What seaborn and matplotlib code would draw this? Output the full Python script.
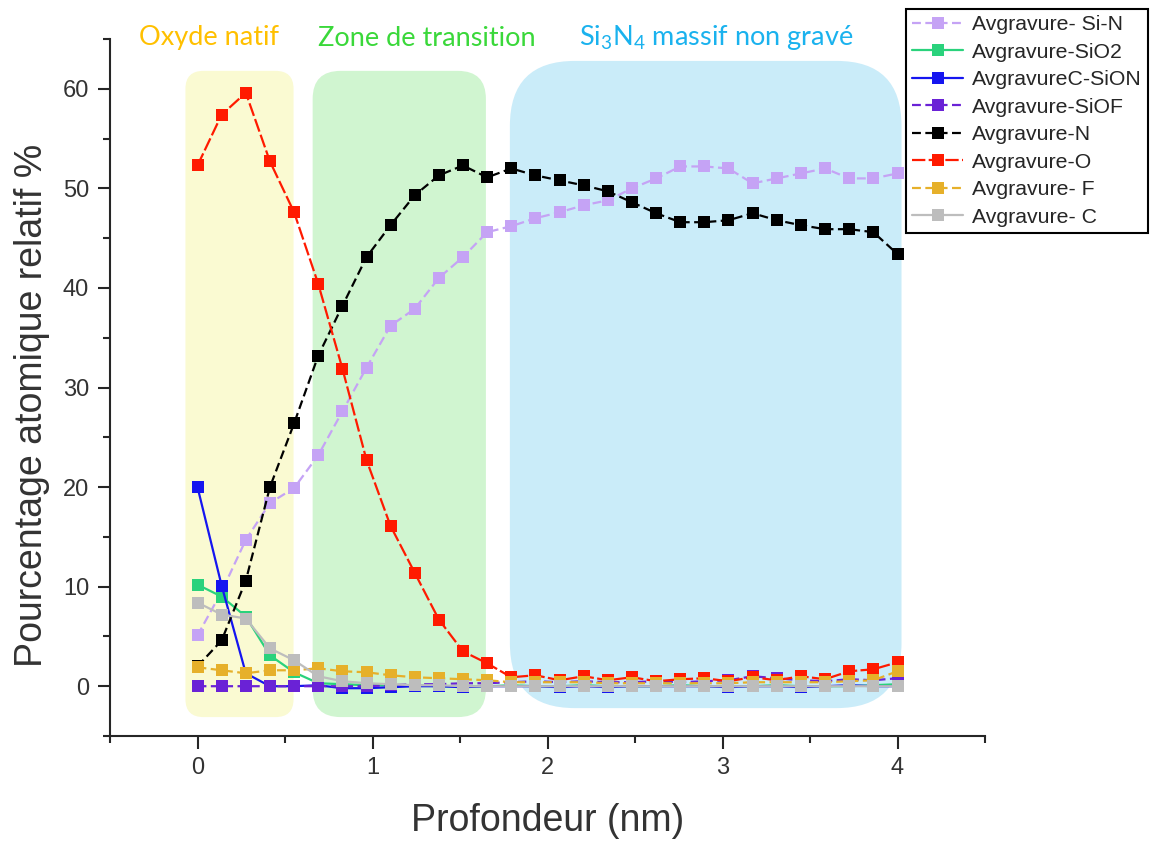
import matplotlib
matplotlib.use('Agg')
import matplotlib.pyplot as plt
from matplotlib.patches import FancyBboxPatch
from matplotlib.ticker import MultipleLocator
import numpy as np
import pandas as pd
import seaborn as sns

# depth (nm)
profondeur = [0.000, 0.138, 0.276, 0.414, 0.552, 0.690, 0.828, 0.966, 1.103, 1.241,
              1.379, 1.517, 1.655, 1.793, 1.931, 2.069, 2.207, 2.345, 2.483, 2.621,
              2.759, 2.897, 3.034, 3.172, 3.310, 3.448, 3.586, 3.724, 3.862, 4.000]

si_n = [5.1, 9.5, 14.7, 18.4, 19.9, 23.2, 27.6, 32.0, 36.2, 37.9,
        41.0, 43.1, 45.6, 46.2, 47.0, 47.6, 48.3, 48.8, 50.0, 51.0,
        52.2, 52.2, 52.0, 50.5, 51.0, 51.5, 52.0, 51.0, 51.0, 51.5]
sio2 = [10.2, 9.0, 7.0, 3.1, 1.4, 0.3, 0.2, 0.1, 0.1, 0.1,
        0.0, 0.0, 0.0, 0.1, 0.0, 0.0, 0.1, 0.0, 0.0, 0.0,
        0.1, 0.0, 0.0, 0.0, 0.1, 0.0, 0.0, 0.0, 0.1, 0.2]
sion = [20.0, 10.1, 1.3, 0.0, 0.0, 0.1, -0.2, -0.2, -0.1, 0.0,
        0.0, -0.1, 0.0, 0.0, 0.0, -0.1, 0.0, -0.1, 0.0, 0.0,
        0.0, 0.0, -0.1, 0.0, 0.0, -0.1, 0.0, 0.1, 0.0, 0.0]
siof = [0.0, 0.0, 0.0, 0.0, 0.0, 0.0, 0.0, 0.0, 0.1, 0.2,
        0.2, 0.3, 0.3, 0.4, 0.5, 0.4, 0.5, 0.4, 0.4, 0.5,
        0.4, 0.5, 0.6, 1.0, 0.8, 0.6, 0.5, 0.7, 0.6, 0.8]
azote = [2.0, 4.6, 10.6, 20.0, 26.4, 33.2, 38.2, 43.1, 46.3, 49.3,
         51.3, 52.3, 51.1, 52.0, 51.3, 50.8, 50.3, 49.7, 48.6, 47.5,
         46.6, 46.6, 46.8, 47.5, 46.8, 46.3, 45.9, 45.9, 45.6, 43.4]
oxygene = [52.3, 57.4, 59.6, 52.7, 47.6, 40.4, 31.9, 22.7, 16.1, 11.4,
           6.7, 3.5, 2.3, 0.9, 1.1, 0.6, 1.0, 0.6, 0.9, 0.5,
           0.7, 0.8, 0.5, 0.9, 0.6, 1.0, 0.7, 1.5, 1.7, 2.4]
fluor = [1.9, 1.6, 1.3, 1.6, 1.6, 1.8, 1.5, 1.4, 1.1, 0.9,
         0.8, 0.7, 0.6, 0.4, 0.4, 0.4, 0.4, 0.3, 0.3, 0.3,
         0.3, 0.3, 0.3, 0.4, 0.4, 0.4, 0.4, 0.5, 0.6, 1.5]
carbone = [8.4, 7.2, 6.8, 3.8, 2.6, 1.0, 0.5, 0.3, 0.2, 0.1,
           0.1, 0.0, 0.0, 0.0, 0.0, 0.0, 0.0, 0.0, 0.0, 0.0,
           0.0, 0.0, 0.0, 0.0, 0.0, 0.0, 0.0, 0.0, 0.0, 0.0]

noms = ['Avgravure- Si-N', 'Avgravure-SiO2', 'AvgravureC-SiON', 'Avgravure-SiOF',
        'Avgravure-N', 'Avgravure-O', 'Avgravure- F', 'Avgravure- C']
series = [si_n, sio2, sion, siof, azote, oxygene, fluor, carbone]
couleurs = ['#C5A3F5', '#2AD27C', '#1515F0', '#6A22D6', '#000000', '#FF1A00', '#E6B02A', '#BDBDBD']
styles = [(0, (4, 2)), '-', '-', (0, (4, 2)), (0, (4, 2)), (0, (6, 1.5)), (0, (4, 2)), '-']

# shaded zones : x0, x1, y0, y1, radius(px), colour
zones = [(-0.069, 0.549, -3.1, 61.8, 18, '#FAFAD2'),
         (0.658, 1.648, -3.1, 61.8, 28, '#D0F5D0'),
         (1.785, 4.023, -2.2, 62.8, 65, '#CAECF9')]

sns.set_style('ticks')
plt.rcParams['font.family'] = ['Liberation Sans', 'DejaVu Sans']

fig = plt.figure(figsize=(11.6, 8.43), dpi=100)
ax = fig.add_axes([110 / 1160, 107 / 843, 875 / 1160, 697 / 843])
ax.set_xlim(-0.5, 4.5)
ax.set_ylim(-5, 65)

px_x = 875 / 5.0
px_y = 697 / 70.0
for x0, x1, y0, y1, r, c in zones:
    box = FancyBboxPatch((x0, y0), x1 - x0, y1 - y0,
                         boxstyle='round,pad=0,rounding_size=%f' % (r / px_x),
                         mutation_aspect=px_x / px_y,
                         facecolor=c, edgecolor='none', zorder=0)
    ax.add_patch(box)

for nom, vals, col, ls in zip(noms, series, couleurs, styles):
    df = pd.DataFrame({'x': profondeur, 'y': vals})
    sns.lineplot(data=df, x='x', y='y', ax=ax, color=col, marker='s', markersize=8,
                 markeredgewidth=0, linewidth=1.6, linestyle=ls, label=nom, zorder=3)

ax.spines['top'].set_visible(False)
ax.spines['right'].set_visible(False)
ax.spines['left'].set_linewidth(1.5)
ax.spines['bottom'].set_linewidth(1.5)
ax.xaxis.set_major_locator(MultipleLocator(1))
ax.xaxis.set_minor_locator(MultipleLocator(0.5))
ax.yaxis.set_major_locator(MultipleLocator(10))
ax.yaxis.set_minor_locator(MultipleLocator(5))
ax.tick_params(which='major', length=9, width=1.5, labelsize=17, labelcolor='#333333', pad=6)
ax.tick_params(which='minor', length=5, width=1.5)
ax.set_xlabel('Profondeur (nm)', fontsize=27, color='#333333')
ax.set_ylabel('Pourcentage atomique relatif %', fontsize=27, color='#333333')
ax.xaxis.set_label_coords(0.5, -0.096)
ax.yaxis.set_label_coords(-0.068, 0.475)

leg = ax.legend(loc='upper left', bbox_to_anchor=(906 / 1160, 1 - 9 / 843),
                bbox_transform=fig.transFigure, fontsize=15.3, frameon=True,
                fancybox=False, edgecolor='black', framealpha=1,
                handlelength=2.4, handletextpad=0.4, labelspacing=0.4,
                borderpad=0.3, borderaxespad=0)
leg.get_frame().set_linewidth(1.5)

fig.text(209 / 1160, 1 - 38 / 843, 'Oxyde natif', color='#FFC000', fontsize=19.5,
         family='Lato', ha='center', va='center')
fig.text(427 / 1160, 1 - 38 / 843, 'Zone de transition', color='#3AD83A', fontsize=19.5,
         family='Lato', ha='center', va='center')
fig.text(716 / 1160, 1 - 38 / 843, r'Si$\mathregular{_3}$N$\mathregular{_4}$ massif non gravé',
         color='#1AB2EE', fontsize=19.5, family='Lato', ha='center', va='center')

fig.savefig('out.png', dpi=100)
